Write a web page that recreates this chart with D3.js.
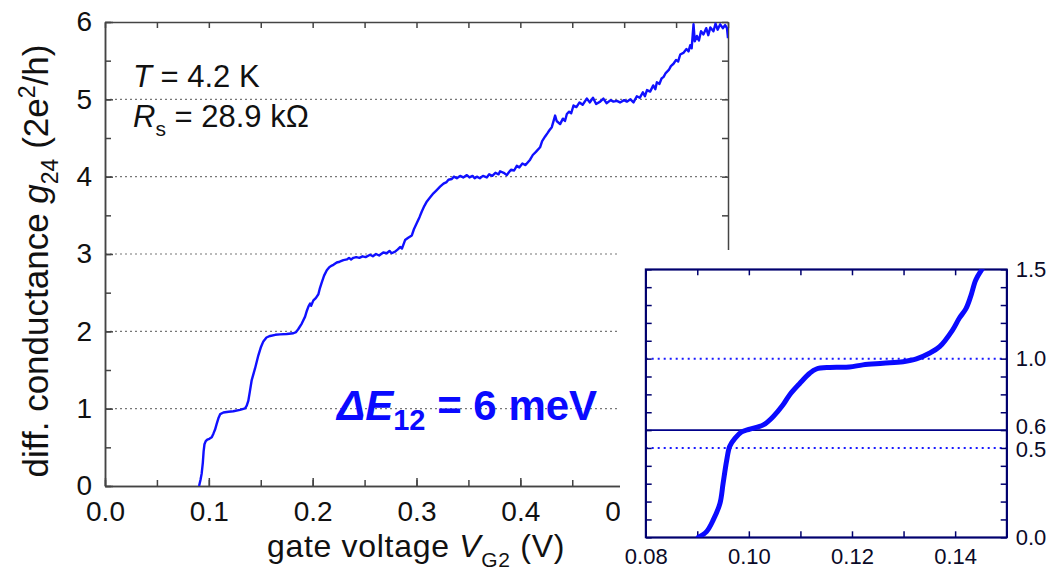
<!DOCTYPE html>
<html lang="en">
<head>
  <meta charset="utf-8">
  <script src="https://d3js.org/d3.v7.js"></script>
  <title>g24 vs VG2</title>
  <style>
    body { margin: 0; background: #fff; }
    svg { font-family: "Liberation Sans", Arial, sans-serif; }
    .grid { stroke: #777; stroke-width: 1.2px; stroke-dasharray: 2 3; }
    .axis path, .axis line { stroke: #444; stroke-width: 1.5px; }
    .axis text { fill: #111; font-size: 28px; }
    .inax path, .inax line { stroke: #00006e; stroke-width: 1.5px; }
    .inax text { fill: #0a0a28; font-size: 22px; }
  </style>
</head>
<body>
<svg id="chart" width="1052" height="572"></svg>
<script type="text/javascript">

// main trace: gate voltage V_G2 (V) and conductance g24 (2e^2/h)
let mainV = [0.0906,0.0920,0.0931,0.0942,0.0950,0.0958,0.0970,0.0985,0.1005,0.1028,0.1045,0.1060,0.1075,0.1092,0.1110,0.1140,0.1190,0.1236,0.1300,0.1349,0.1365,0.1380,0.1395,0.1413,0.1445,0.1477,0.1500,0.1525,0.1555,0.1590,0.1640,0.1686,0.1750,0.1814,0.1840,0.1862,0.1895,0.1927,0.1945,0.1959,0.1975,0.1985,0.2007,0.2030,0.2055,0.2070,0.2087,0.2110,0.2136,0.2160,0.2184,0.2200,0.2232,0.2260,0.2296,0.2330,0.2350,0.2370,0.2392,0.2420,0.2450,0.2480,0.2510,0.2553,0.2580,0.2610,0.2640,0.2680,0.2714,0.2740,0.2760,0.2794,0.2820,0.2842,0.2860,0.2890,0.2920,0.2955,0.2975,0.3003,0.3030,0.3051,0.3075,0.3100,0.3130,0.3163,0.3190,0.3227,0.3260,0.3290,0.3308,0.3340,0.3360,0.3388,0.3420,0.3450,0.3485,0.3510,0.3540,0.3560,0.3581,0.3610,0.3640,0.3677,0.3700,0.3730,0.3760,0.3790,0.3805,0.3840,0.3870,0.3886,0.3910,0.3940,0.3966,0.3990,0.4020,0.4050,0.4094,0.4120,0.4150,0.4190,0.4210,0.4239,0.4260,0.4280,0.4303,0.4335,0.4350,0.4383,0.4410,0.4430,0.4448,0.4470,0.4490,0.4512,0.4540,0.4570,0.4600,0.4640,0.4670,0.4700,0.4730,0.4769,0.4800,0.4830,0.4870,0.4897,0.4930,0.4960,0.5000,0.5026,0.5060,0.5090,0.5122,0.5150,0.5180,0.5200,0.5220,0.5250,0.5280,0.5300,0.5315,0.5340,0.5360,0.5380,0.5400,0.5430,0.5450,0.5475,0.5500,0.5520,0.5540,0.5570,0.5600,0.5620,0.5636,0.5650,0.5668,0.5680,0.5700,0.5720,0.5740,0.5764,0.5790,0.5810,0.5830,0.5860,0.5880,0.5900,0.5925,0.5950,0.5973,0.5990,0.6000];
let mainG = [0,0.08,0.16,0.30,0.45,0.54,0.58,0.60,0.61,0.63,0.68,0.73,0.80,0.875,0.93,0.95,0.96,0.966,0.985,1.005,1.04,1.10,1.22,1.37,1.52,1.69,1.79,1.87,1.92,1.94,1.955,1.96,1.965,1.975,1.99,2.03,2.10,2.19,2.27,2.32,2.36,2.33,2.40,2.43,2.48,2.56,2.63,2.72,2.79,2.83,2.85,2.86,2.89,2.90,2.92,2.93,2.95,2.93,2.95,2.96,2.95,2.97,2.96,2.99,2.97,3.00,2.98,3.02,3.01,3.04,3.01,3.03,3.06,3.09,3.07,3.18,3.21,3.24,3.32,3.40,3.48,3.55,3.62,3.68,3.73,3.785,3.82,3.87,3.91,3.93,3.96,3.97,4.00,3.98,4.01,3.99,4.02,3.99,4.01,3.98,4.00,3.98,4.01,3.99,4.03,4.01,4.05,4.03,4.07,4.05,4.02,4.05,4.09,4.08,4.14,4.12,4.17,4.15,4.22,4.28,4.32,4.38,4.46,4.52,4.56,4.60,4.64,4.79,4.72,4.68,4.75,4.72,4.81,4.84,4.82,4.92,4.90,4.96,4.93,5.01,4.96,5.02,4.94,4.97,5.01,4.95,4.99,4.97,4.98,4.96,4.99,4.97,5.00,4.96,5.04,5.02,5.09,5.04,5.12,5.10,5.18,5.13,5.22,5.20,5.27,5.29,5.34,5.38,5.43,5.46,5.51,5.49,5.58,5.60,5.65,5.62,5.70,5.66,5.97,5.75,5.82,5.76,5.88,5.84,5.92,5.83,5.93,5.88,5.98,5.90,5.97,5.92,5.96,5.92,5.79];

// inset trace (zoom of first step)
let insetV = [0.0902,0.0918,0.0931,0.0944,0.0950,0.0957,0.0963,0.0973,0.0986,0.1002,0.1028,0.1047,0.1066,0.1079,0.1099,0.1118,0.1131,0.1157,0.1195,0.1221,0.1260,0.1299,0.1325,0.1350,0.1370,0.1395,0.1408,0.1421,0.1430,0.1440,0.1452];
let insetG = [0,0.032,0.097,0.19,0.30,0.43,0.51,0.554,0.59,0.606,0.629,0.675,0.74,0.797,0.862,0.918,0.942,0.951,0.953,0.965,0.974,0.983,0.998,1.03,1.067,1.16,1.226,1.28,1.347,1.44,1.5];

let mainGrid = [1, 2, 3, 4, 5];
let mainXTicks = [0.0, 0.1, 0.2, 0.3, 0.4, 0.5, 0.6];
let mainYTicks = [0, 1, 2, 3, 4, 5, 6];
let insetXTicks = [0.08, 0.10, 0.12, 0.14];
let insetYLabels = [0.0, 0.5, 0.6, 1.0, 1.5];
let insetDotted = [0.5, 1.0];
let insetSolid = [0.6];

let svg = d3.select("#chart");

let x = d3.scaleLinear().domain([0, 0.6]).range([105, 728]);
let y = d3.scaleLinear().domain([0, 6]).range([486, 22]);

// dotted plateau guides
svg.append("g").selectAll("line")
    .data(mainGrid)
    .join("line")
    .attr("class", "grid")
    .attr("x1", x(0)).attr("x2", x(0.6))
    .attr("y1", d => y(d)).attr("y2", d => y(d));

// minor ticks
let minorX = d3.range(0, 0.601, 0.05);
let minorY = d3.range(0, 6.01, 0.5);
svg.append("g").attr("class", "axis").attr("transform", `translate(0,${y(0)})`)
    .call(d3.axisBottom(x).tickValues(minorX).tickSize(-6).tickFormat("").tickSizeOuter(0));
svg.append("g").attr("class", "axis").attr("transform", `translate(0,${y(6)})`)
    .call(d3.axisTop(x).tickValues(minorX).tickSize(-6).tickFormat("").tickSizeOuter(0));
svg.append("g").attr("class", "axis").attr("transform", `translate(${x(0)},0)`)
    .call(d3.axisLeft(y).tickValues(minorY).tickSize(-6).tickFormat("").tickSizeOuter(0));
svg.append("g").attr("class", "axis").attr("transform", `translate(${x(0.6)},0)`)
    .call(d3.axisRight(y).tickValues(minorY).tickSize(-6).tickFormat("").tickSizeOuter(0));

// major ticks with labels
svg.append("g").attr("class", "axis").attr("transform", `translate(0,${y(0)})`)
    .call(d3.axisBottom(x).tickValues(mainXTicks).tickSize(-8).tickPadding(15).tickFormat(d3.format(".1f")).tickSizeOuter(0));
svg.append("g").attr("class", "axis").attr("transform", `translate(${x(0)},0)`)
    .call(d3.axisLeft(y).tickValues(mainYTicks).tickSize(-8).tickPadding(13).tickFormat(d3.format("d")).tickSizeOuter(0));

svg.append("clipPath").attr("id", "clipMain")
    .append("rect").attr("x", x(0)).attr("y", y(6)).attr("width", x(0.6) - x(0)).attr("height", y(0) - y(6));

let mainLine = d3.line().x(d => x(d[0])).y(d => y(d[1]));
svg.append("path")
    .datum(mainV.map((v, i) => [v, mainG[i]]))
    .attr("clip-path", "url(#clipMain)")
    .attr("d", mainLine)
    .style("fill", "none")
    .style("stroke", "#1010ff")
    .style("stroke-width", 2.4)
    .style("stroke-linejoin", "round");

// labels
svg.append("text")
    .attr("x", 133).attr("y", 87)
    .style("font-size", "31px").style("fill", "#111")
    .html('<tspan font-style="italic">T</tspan> = 4.2 K');
svg.append("text")
    .attr("x", 133).attr("y", 127)
    .style("font-size", "31px").style("fill", "#111")
    .html('<tspan font-style="italic">R</tspan><tspan dy="9" font-size="21px">s</tspan><tspan dy="-9"> = 28.9 kΩ</tspan>');

svg.append("text")
    .attr("x", 337).attr("y", 420)
    .style("font-size", "42px").style("font-weight", "bold").style("fill", "#0a0aff")
    .html('<tspan font-style="italic">ΔE</tspan><tspan dy="10" font-size="29px">12</tspan><tspan dy="-10"> = 6 meV</tspan>');

svg.append("text")
    .attr("x", 416).attr("y", 557)
    .attr("text-anchor", "middle")
    .style("font-size", "32px").style("fill", "#111").style("letter-spacing", "0.7px")
    .html('gate voltage <tspan font-style="italic">V</tspan><tspan dy="10" font-size="21px">G2</tspan><tspan dy="-10"> (V)</tspan>');

svg.append("text")
    .attr("transform", "translate(48,261) rotate(-90)")
    .attr("text-anchor", "middle")
    .style("font-size", "35px").style("fill", "#111")
    .html('diff. conductance <tspan font-style="italic">g</tspan><tspan dy="10" font-size="23px">24</tspan><tspan dy="-10">  (2e</tspan><tspan dy="-13" font-size="23px">2</tspan><tspan dy="13">/h)</tspan>');

// inset
svg.append("rect").attr("x", 620).attr("y", 250).attr("width", 432).attr("height", 322).style("fill", "#fff");

let xi = d3.scaleLinear().domain([0.08, 0.15]).range([645.7, 1006.7]);
let yi = d3.scaleLinear().domain([0, 1.5]).range([537.3, 269.3]);

svg.append("g").selectAll("line")
    .data(insetDotted)
    .join("line")
    .attr("x1", xi(0.08)).attr("x2", xi(0.15))
    .attr("y1", d => yi(d)).attr("y2", d => yi(d))
    .style("stroke", "#1a1aff").style("stroke-width", 2).style("stroke-dasharray", "2 4");
svg.append("g").selectAll("line")
    .data(insetSolid)
    .join("line")
    .attr("x1", xi(0.08)).attr("x2", xi(0.15))
    .attr("y1", d => yi(d)).attr("y2", d => yi(d))
    .style("stroke", "#00008a").style("stroke-width", 1.6);

let inMinorX = d3.range(0.08, 0.1501, 0.01);
let inMinorY = d3.range(0, 1.501, 0.1);
svg.append("g").attr("class", "inax").attr("transform", `translate(0,${yi(0)})`)
    .call(d3.axisBottom(xi).tickValues(inMinorX).tickSize(-6).tickFormat("").tickSizeOuter(0));
svg.append("g").attr("class", "inax").attr("transform", `translate(0,${yi(1.5)})`)
    .call(d3.axisTop(xi).tickValues(inMinorX).tickSize(-6).tickFormat("").tickSizeOuter(0));
svg.append("g").attr("class", "inax").attr("transform", `translate(${xi(0.08)},0)`)
    .call(d3.axisLeft(yi).tickValues(inMinorY).tickSize(-6).tickFormat("").tickSizeOuter(0));
svg.append("g").attr("class", "inax").attr("transform", `translate(${xi(0.15)},0)`)
    .call(d3.axisRight(yi).tickValues(inMinorY).tickSize(-6).tickFormat("").tickSizeOuter(0));

svg.append("g").attr("class", "inax").attr("transform", `translate(0,${yi(0)})`)
    .call(d3.axisBottom(xi).tickValues(insetXTicks).tickSize(0).tickPadding(11).tickFormat(d3.format(".2f")))
    .select(".domain").remove();
let ry = svg.append("g").attr("class", "inax").attr("transform", `translate(${xi(0.15)},0)`)
    .call(d3.axisRight(yi).tickValues(insetYLabels).tickSize(0).tickPadding(9).tickFormat(d3.format(".1f")));
ry.select(".domain").remove();
ry.selectAll(".tick text").attr("y", d => d === 0.6 ? -4 : (d === 0.5 ? 1 : 0));

// frame
svg.append("rect")
    .attr("x", xi(0.08)).attr("y", yi(1.5))
    .attr("width", xi(0.15) - xi(0.08)).attr("height", yi(0) - yi(1.5))
    .style("fill", "none").style("stroke", "#00006e").style("stroke-width", 1.8);

svg.append("clipPath").attr("id", "clipInset")
    .append("rect").attr("x", xi(0.08)).attr("y", yi(1.5)).attr("width", xi(0.15) - xi(0.08)).attr("height", yi(0) - yi(1.5));

svg.append("path")
    .datum(insetV.map((v, i) => [v, insetG[i]]))
    .attr("clip-path", "url(#clipInset)")
    .attr("d", d3.line().curve(d3.curveCatmullRom).x(d => xi(d[0])).y(d => yi(d[1])))
    .style("fill", "none")
    .style("stroke", "#0a0aff")
    .style("stroke-width", 5)
    .style("stroke-linecap", "round");

</script>
</body>
</html>
